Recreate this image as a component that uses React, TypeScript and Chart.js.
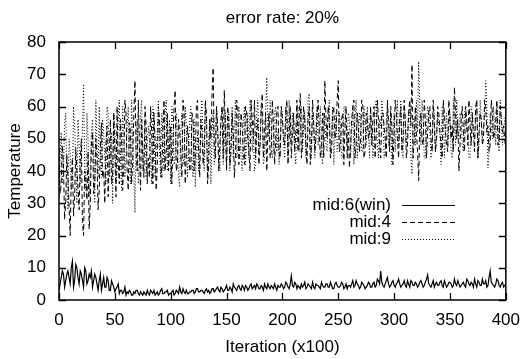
import React, { useEffect, useRef } from "react";
import { Chart, registerables } from "chart.js";

Chart.register(...registerables);

const TITLE = "error rate: 20%";
const X_TITLE = "Iteration (x100)";
const Y_TITLE = "Temperature";
const SERIES_LABELS = ["mid:6(win)", "mid:4", "mid:9"];
const X_TICKS = [0, 50, 100, 150, 200, 250, 300, 350, 400];
const Y_TICKS = [0, 10, 20, 30, 40, 50, 60, 70, 80];

// samples at even iterations (0, 2, ..., 400)
const mid6Even = [
  3, 7, 8, 6, 9, 5, 12, 6, 10, 5, 8, 4, 9, 6, 7, 4, 8, 5, 6, 3,
  7, 4, 6, 3, 5, 2.5, 4, 2, 3, 2.5, 1.5, 2, 2.5, 1.5, 2, 3, 1.5, 2, 2.5, 1.5,
  2, 3, 2, 1.5, 2.5, 2, 3.5, 2, 2.5, 1.5, 2, 3, 2, 2.5, 4, 2, 2.5, 3, 2, 2.5,
  3, 2.5, 3.5, 2.5, 3, 2, 3.5, 3, 2.5, 3.5, 3, 4, 2.5, 3.5, 3, 4.5, 3, 3.5, 5, 3.5,
  4, 3.5, 4.5, 3, 4, 3.5, 5, 4, 3.5, 4.5, 3.5, 4, 5, 3.5, 4, 4.5, 3.5, 4, 4.5, 4,
  4.5, 4, 5, 3.5, 7.5, 4, 5, 4.5, 3.5, 4, 5.5, 4, 4.5, 3.5, 4, 5, 4.5, 3.5, 4.5, 4,
  5, 4, 4.5, 3.5, 5.5, 4, 4.5, 5, 4, 3.5, 4.5, 5, 4, 6, 4.5, 4, 5, 3.5, 4.5, 5,
  4, 5.5, 4.5, 6, 9, 4.5, 5, 7, 4, 5.5, 4.5, 5, 6.5, 4, 5, 4.5, 6, 4, 5.5, 4.5,
  5, 4.5, 6, 4, 5.5, 7.8, 4.5, 5, 4, 5.5, 4.5, 6, 4, 5, 4.5, 5.5, 4, 6.5, 4.5, 5,
  4.5, 5.5, 4, 6, 4.5, 5, 6.5, 4, 5.5, 4.5, 5, 6, 4.5, 9, 5, 4, 6.5, 4.5, 5, 4,
  5,
];
// samples at odd iterations (1, 3, ..., 399)
const mid6Odd = [
  5, 9, 4, 8, 7, 10, 4, 11, 7, 9, 6, 10, 5, 8, 9, 6, 7, 3, 8, 5,
  4, 7, 3, 6, 4, 3.5, 5, 3, 2, 4, 2.5, 3, 1.5, 2.5, 3, 2, 2.5, 1.5, 2, 3,
  1.5, 2.5, 3, 2, 1.5, 3, 2, 2.5, 3, 2, 2.5, 1.5, 3, 2, 2.5, 3.5, 2, 2, 2.5, 3,
  2, 3.5, 2.5, 3, 2.5, 3, 2.5, 2, 3.5, 2.5, 3.5, 3, 4, 2.5, 3.5, 3, 4, 2.5, 4, 3,
  4.5, 3, 4, 4.5, 3, 4.5, 3.5, 4.5, 5, 3.5, 4.5, 3, 4, 5, 3.5, 4, 5, 3, 4, 5,
  3.5, 5.5, 4, 5, 4.5, 5.5, 3.5, 4, 5, 4.5, 3.5, 5, 4, 5.5, 3.5, 4.5, 4, 5.5, 4, 5,
  4, 5.5, 3.5, 5, 4.5, 4, 5.5, 3.5, 5, 4.5, 4, 6, 4.5, 5, 3.5, 5.5, 4.5, 4, 5.5, 4,
  5, 4, 6.5, 5, 5.5, 4, 6, 5, 4.5, 6, 4, 5.5, 5, 4.5, 6, 4, 5, 6, 4.5, 5.5,
  4, 5.5, 5, 4.5, 6.5, 5, 4, 6, 5, 4.5, 5.5, 4.5, 6, 4, 5.5, 5, 4.5, 5, 6, 4,
  5, 4.5, 6.5, 5, 5.5, 4, 5, 6, 4.5, 6.5, 5, 4, 7, 5.5, 4.5, 5, 6, 4, 5.5, 4.5,
];

const mid4Even = [
  47, 36, 42, 30, 38, 20, 44, 32, 40, 28, 50, 20, 38, 46, 30, 52, 36, 44, 34, 55,
  40, 48, 32, 56, 38, 46, 60, 36, 50, 42, 58, 34, 52, 44, 68, 40, 48, 56, 38, 54,
  44, 60, 36, 50, 42, 56, 38, 62, 46, 40, 54, 48, 65, 42, 52, 38, 58, 46, 50, 40,
  56, 44, 62, 38, 52, 46, 58, 42, 50, 72, 44, 54, 48, 60, 65, 40, 56, 46, 52, 44,
  60, 48, 54, 42, 58, 46, 62, 50, 44, 56, 48, 64, 52, 40, 58, 46, 54, 50, 60, 44,
  56, 48, 62, 50, 44, 58, 52, 46, 64, 50, 56, 42, 60, 48, 54, 50, 62, 44, 58, 68,
  50, 56, 46, 60, 52, 68, 48, 58, 54, 44, 41, 56, 62, 48, 54, 50, 60, 46, 56, 52,
  48, 60, 52, 56, 44, 58, 50, 62, 46, 54, 52, 58, 44, 60, 50, 56, 48, 62, 73, 50,
  52, 37, 58, 48, 56, 52, 60, 46, 54, 50, 58, 48, 62, 52, 46, 56, 54, 66, 50, 40,
  56, 52, 60, 48, 54, 58, 46, 62, 52, 56, 50, 60, 54, 48, 58, 52, 62, 50, 56, 54,
  46,
];
const mid4Odd = [
  33, 48, 25, 45, 29, 38, 26, 47, 35, 43, 24, 40, 31, 22, 48, 33, 50, 28, 46, 38,
  30, 54, 44, 36, 58, 32, 42, 56, 34, 62, 40, 55, 36, 58, 46, 62, 34, 44, 60, 36,
  38, 52, 58, 34, 60, 44, 52, 40, 58, 48, 36, 60, 40, 56, 46, 62, 36, 54, 40, 58,
  40, 60, 46, 56, 42, 62, 36, 56, 64, 48, 60, 40, 56, 44, 52, 60, 42, 58, 38, 62,
  42, 58, 46, 60, 50, 40, 56, 62, 52, 42, 60, 44, 58, 52, 44, 62, 42, 58, 46, 60,
  50, 58, 42, 60, 52, 46, 62, 56, 44, 60, 48, 56, 42, 62, 46, 58, 52, 48, 44, 56,
  60, 44, 58, 50, 62, 46, 56, 42, 60, 52, 48, 60, 44, 58, 46, 62, 44, 58, 50, 60,
  56, 44, 62, 48, 58, 54, 44, 56, 60, 42, 62, 50, 56, 46, 62, 44, 58, 54, 44, 60,
  46, 56, 50, 62, 44, 58, 50, 62, 46, 60, 52, 44, 58, 48, 62, 50, 46, 58, 56, 48,
  60, 46, 56, 62, 48, 52, 60, 44, 58, 48, 62, 52, 46, 62, 50, 56, 48, 60, 52, 50,
];

const mid9Even = [
  32, 52, 40, 58, 28, 46, 36, 54, 30, 48, 42, 67, 34, 50, 40, 56, 30, 48, 60, 38,
  52, 36, 58, 44, 30, 54, 40, 62, 34, 50, 44, 60, 36, 48, 27, 56, 42, 62, 46, 38,
  54, 44, 60, 38, 52, 46, 58, 40, 62, 48, 36, 56, 44, 50, 35, 58, 42, 54, 46, 60,
  38, 35, 52, 44, 62, 40, 56, 48, 36, 58, 46, 54, 40, 60, 48, 42, 58, 50, 44, 62,
  46, 56, 40, 60, 50, 44, 58, 52, 42, 62, 48, 56, 44, 69, 50, 54, 46, 60, 52, 48,
  58, 44, 54, 62, 48, 56, 42, 60, 52, 46, 58, 50, 64, 44, 56, 52, 48, 60, 42, 56,
  46, 62, 52, 42, 58, 50, 54, 44, 60, 48, 56, 52, 42, 62, 50, 58, 46, 54, 60, 44,
  56, 50, 62, 44, 54, 58, 46, 60, 50, 42, 58, 54, 48, 62, 44, 56, 52, 60, 39, 56,
  62, 74, 48, 56, 44, 60, 52, 46, 58, 50, 54, 42, 60, 52, 48, 58, 44, 56, 62, 50,
  56, 46, 60, 52, 44, 58, 50, 62, 48, 56, 52, 68, 41, 58, 50, 54, 60, 46, 56, 52,
  58,
];
const mid9Odd = [
  45, 36, 55, 38, 50, 34, 60, 42, 56, 36, 54, 40, 58, 32, 52, 44, 62, 38, 46, 56,
  44, 60, 38, 52, 58, 36, 56, 44, 60, 38, 54, 42, 62, 40, 50, 36, 58, 40, 56, 48,
  50, 36, 56, 46, 62, 38, 52, 58, 40, 56, 60, 42, 58, 38, 52, 44, 60, 38, 56, 44,
  56, 46, 40, 58, 46, 60, 38, 56, 52, 42, 60, 44, 56, 42, 58, 52, 40, 60, 54, 44,
  60, 44, 56, 42, 58, 62, 46, 40, 58, 46, 60, 42, 58, 52, 62, 44, 58, 46, 42, 60,
  48, 60, 44, 50, 58, 46, 58, 46, 60, 54, 44, 62, 48, 58, 44, 60, 52, 46, 58, 48,
  56, 44, 60, 50, 46, 58, 44, 60, 52, 58, 44, 60, 56, 44, 58, 46, 60, 48, 52, 58,
  44, 60, 48, 56, 62, 44, 56, 48, 58, 52, 46, 62, 54, 46, 60, 48, 58, 44, 56, 48,
  52, 60, 62, 44, 54, 58, 44, 60, 46, 58, 52, 60, 44, 58, 54, 46, 62, 48, 52, 58,
  48, 58, 52, 44, 60, 50, 56, 44, 62, 50, 58, 60, 46, 54, 60, 48, 54, 62, 48, 56,
];

// merge even/odd samples into one series table: {x: iteration, y: value}
const merge = (even: number[], odd: number[]) => {
  const pts: { x: number; y: number }[] = [];
  even.forEach((v, i) => {
    pts.push({ x: 2 * i, y: v });
    if (i < odd.length) pts.push({ x: 2 * i + 1, y: odd[i] });
  });
  return pts;
};

const FONT = "'Liberation Sans', Arial, sans-serif";
const FS = 17;

const framePlugin = {
  id: "gnuplotFrame",
  afterDatasetsDraw(chart: any) {
    const { ctx, chartArea } = chart;
    const { left, right, top, bottom } = chartArea;
    const xs = chart.scales.x;
    const ys = chart.scales.y;
    const tl = 7;
    ctx.save();
    ctx.strokeStyle = "#000";
    ctx.lineWidth = 1.3;
    ctx.setLineDash([]);
    ctx.beginPath();
    X_TICKS.forEach((v) => {
      const px = Math.round(xs.getPixelForValue(v)) + 0.5;
      ctx.moveTo(px, bottom);
      ctx.lineTo(px, bottom - tl);
      ctx.moveTo(px, top);
      ctx.lineTo(px, top + tl);
    });
    Y_TICKS.forEach((v) => {
      const py = Math.round(ys.getPixelForValue(v)) + 0.5;
      ctx.moveTo(left, py);
      ctx.lineTo(left + tl, py);
      ctx.moveTo(right, py);
      ctx.lineTo(right - tl, py);
    });
    ctx.stroke();
    ctx.lineWidth = 1.5;
    ctx.strokeRect(left, top, right - left, bottom - top);

    // legend (gnuplot style: right-aligned text, sample to the right)
    ctx.font = `${FS}px ${FONT}`;
    ctx.fillStyle = "#000";
    ctx.textAlign = "right";
    ctx.textBaseline = "middle";
    const rowY = [205, 222, 239];
    chart.data.datasets.forEach((ds: any, i: number) => {
      const y = rowY[i];
      ctx.fillText(ds.label, 391, y);
      ctx.beginPath();
      ctx.lineWidth = ds.borderWidth;
      ctx.setLineDash(ds.borderDash || []);
      ctx.moveTo(402, y + 0.5);
      ctx.lineTo(455, y + 0.5);
      ctx.stroke();
    });
    ctx.setLineDash([]);

    // titles
    const cx = (left + right) / 2;
    ctx.textAlign = "center";
    ctx.font = `${FS}px ${FONT}`;
    ctx.fillText(TITLE, cx, 18);
    ctx.fillText(X_TITLE, cx, 347);
    ctx.translate(15, (top + bottom) / 2);
    ctx.rotate(-Math.PI / 2);
    ctx.fillText(Y_TITLE, 0, 0);
    ctx.restore();
  },
};

export default function App() {
  const ref = useRef<HTMLCanvasElement | null>(null);
  useEffect(() => {
    document.body.style.margin = "0";
    const canvas = ref.current!;
    const chart = new Chart(canvas, {
      type: "line",
      data: {
        datasets: [
          {
            label: SERIES_LABELS[0],
            data: merge(mid6Even, mid6Odd),
            borderColor: "#000",
            borderWidth: 1.2,
            borderDash: [],
            pointRadius: 0,
            tension: 0,
          },
          {
            label: SERIES_LABELS[1],
            data: merge(mid4Even, mid4Odd),
            borderColor: "#000",
            borderWidth: 1,
            borderDash: [5, 3],
            pointRadius: 0,
            tension: 0,
          },
          {
            label: SERIES_LABELS[2],
            data: merge(mid9Even, mid9Odd),
            borderColor: "#000",
            borderWidth: 1,
            borderDash: [1, 2],
            pointRadius: 0,
            tension: 0,
          },
        ],
      },
      options: {
        responsive: false,
        animation: false,
        devicePixelRatio: 1,
        layout: { padding: { top: 42, right: 21, left: 0, bottom: 0 } },
        plugins: {
          legend: { display: false },
          title: { display: false },
          tooltip: { enabled: false },
        },
        scales: {
          x: {
            type: "linear",
            min: 0,
            max: 400,
            afterFit: (s: any) => {
              s.height = 59;
            },
            afterBuildTicks: (s: any) => {
              s.ticks = X_TICKS.map((v) => ({ value: v }));
            },
            grid: { display: false, drawTicks: false },
            border: { display: false },
            ticks: {
              color: "#000",
              font: { family: FONT, size: FS },
              padding: 10,
              maxRotation: 0,
              autoSkip: false,
            },
          },
          y: {
            min: 0,
            max: 80,
            afterFit: (s: any) => {
              s.width = 59;
            },
            afterBuildTicks: (s: any) => {
              s.ticks = Y_TICKS.map((v) => ({ value: v }));
            },
            grid: { display: false, drawTicks: false },
            border: { display: false },
            ticks: {
              color: "#000",
              font: { family: FONT, size: FS },
              padding: 13,
              autoSkip: false,
            },
          },
        },
      },
      plugins: [framePlugin],
    });
    return () => chart.destroy();
  }, []);
  return <canvas ref={ref} width={530} height={359} style={{ display: "block" }} />;
}
